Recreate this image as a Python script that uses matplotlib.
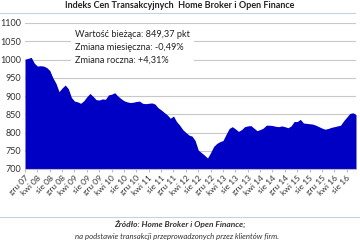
import matplotlib
matplotlib.use("Agg")
import matplotlib.pyplot as plt
from matplotlib.lines import Line2D

# monthly index values, gru 07 .. lis 16
values = [1001, 1003, 1006, 990, 982, 983, 982, 978, 970, 950,
          935, 912, 922, 930, 920, 896, 886, 884, 880, 887,
          898, 907, 899, 890, 889, 892, 891, 903, 905, 909,
          900, 893, 887, 884, 882, 883, 885, 886, 880, 879,
          880, 881, 878, 868, 862, 855, 848, 839, 845, 830,
          820, 808, 800, 793, 790, 778, 752, 745, 738, 730,
          745, 762, 770, 775, 778, 795, 811, 816, 810, 803,
          808, 816, 818, 819, 812, 805, 808, 812, 820, 820,
          819, 817, 816, 818, 816, 813, 818, 830, 830, 836,
          826, 825, 824, 823, 820, 816, 812, 809, 811, 814,
          816, 818, 820, 832, 842, 852, 854, 849]

months = ["gru", "kwi", "sie"]
years = ["07", "08", "08", "08", "09", "09", "09", "10", "10", "10",
         "11", "11", "11", "12", "12", "12", "13", "13", "13", "14",
         "14", "14", "15", "15", "15", "16", "16"]
tick_labels = [months[k % 3] + " " + y for k, y in enumerate(years)]

y_ticks = [700, 750, 800, 850, 900, 950, 1000, 1050, 1100]

info = ["Wartość bieżąca: 849,37 pkt",
        "Zmiana miesięczna: -0,49%",
        "Zmiana roczna: +4,31%"]

plt.rcParams['font.family'] = ['Lato', 'DejaVu Sans']

W, H = 360, 240
fig = plt.figure(figsize=(W / 100, H / 100), dpi=100)
fig.patch.set_facecolor("white")

left, right, top, bottom = 25, 356, 23, 169
ax = fig.add_axes([left / W, 1 - bottom / H, (right - left) / W, (bottom - top) / H])

x = list(range(len(values)))
ax.fill_between(x, values, 700, color="#0000C4", lw=0, zorder=2)
ax.set_xlim(0, len(values) - 1)
ax.set_ylim(700, 1100)

ax.set_yticks(y_ticks)
ax.set_yticklabels([str(v) for v in y_ticks], fontsize=6.5, color="#333333")
ax.yaxis.grid(True, color="#C8C8C8", lw=0.8, zorder=0)
ax.tick_params(axis="y", length=0, pad=3)

pos = list(range(0, len(values), 4))
ax.set_xticks(pos)
ax.set_xticklabels(tick_labels, rotation=45, ha="right", rotation_mode="anchor",
                   fontsize=6, color="#333333")
ax.tick_params(axis="x", length=2, color="#BBBBBB", pad=2)

for s in ["top", "right", "left"]:
    ax.spines[s].set_visible(False)
ax.spines["bottom"].set_color("#BBBBBB")

fig.text(0.5, 1 - 6 / H, "Indeks Cen Transakcyjnych  Home Broker i Open Finance",
         ha="center", va="center", fontsize=6.5, fontweight="bold", color="#222222")
fig.add_artist(Line2D([0, 355 / W], [1 - 13 / H, 1 - 13 / H], color="#C5D3E0", lw=0.8))

fig.text(75 / W, 1 - 47 / H, "\n".join(info), ha="left", va="center", fontsize=6.6,
         color="#222222", linespacing=1.55,
         bbox=dict(facecolor="white", edgecolor="none", pad=3))

fig.add_artist(Line2D([0, 1], [1 - 217 / H, 1 - 217 / H], color="#C5D3E0", lw=0.8))
fig.text(180 / W, 1 - 224 / H, "Źródło: Home Broker i Open Finance;", ha="center",
         va="center", fontsize=6, style="italic", fontweight="bold", color="#333333")
fig.text(177 / W, 1 - 236 / H, "na podstawie transakcji przeprowadzonych przez klientów firm.",
         ha="center", va="center", fontsize=5.6, style="italic", color="#333333")

fig.savefig("out.png", dpi=100)
